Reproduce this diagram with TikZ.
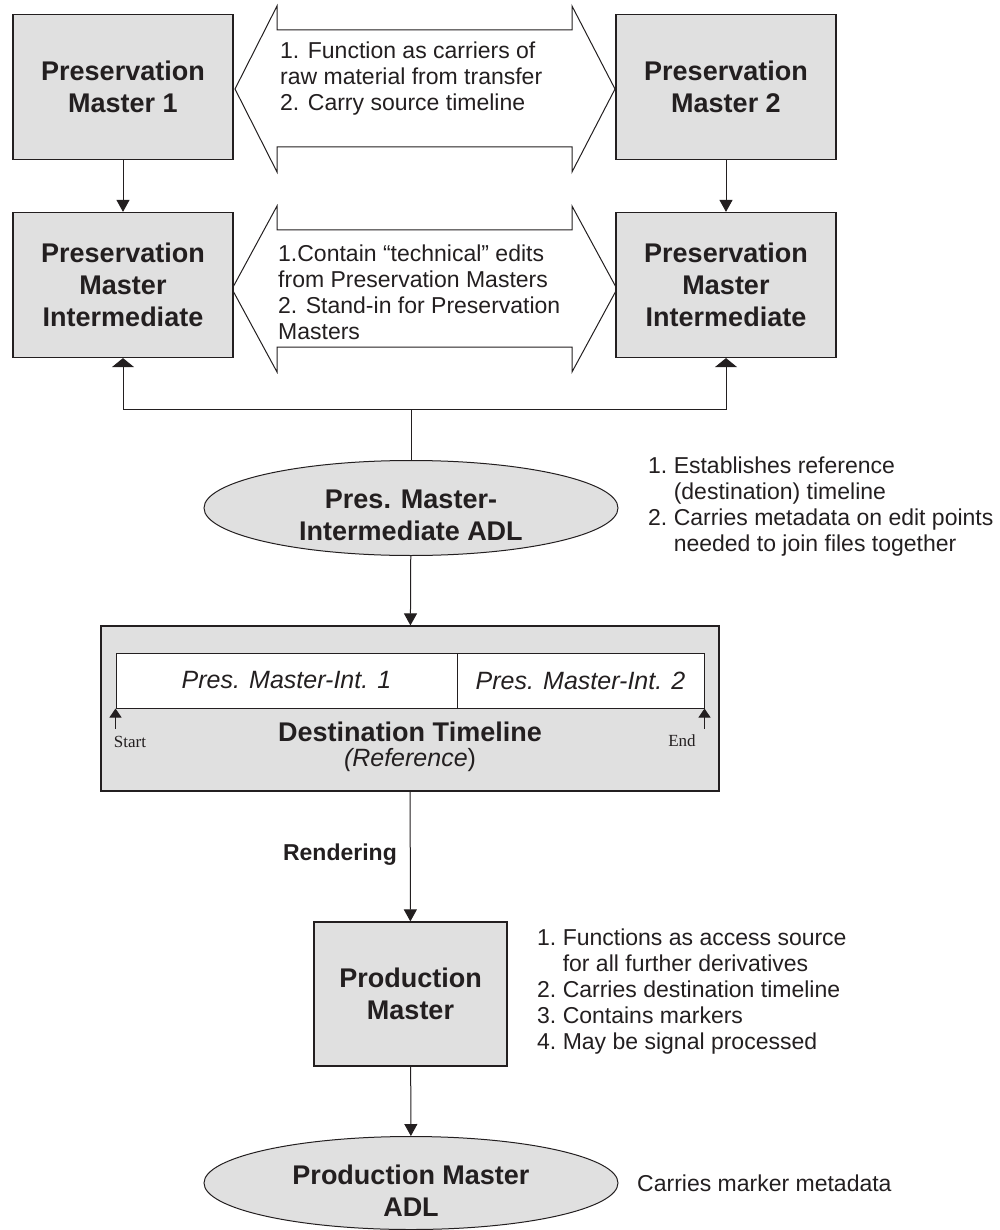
\documentclass[tikz,border=0pt]{standalone}
\usepackage{fontspec}
\setmainfont{Liberation Sans}
\newfontfamily\timesfont{Liberation Serif}
\usetikzlibrary{arrows.meta,shapes.geometric}
\definecolor{boxgray}{HTML}{E0E0E0}
\definecolor{inkgray}{HTML}{231F20}
\tikzset{
  master/.style={draw=inkgray,line width=1.2pt,fill=boxgray,minimum width=220pt,minimum height=145pt,
    align=center,text=inkgray,font=\fontsize{27}{32}\selectfont\bfseries},
  adl/.style={ellipse,draw=inkgray,line width=1pt,fill=boxgray,minimum width=414pt,minimum height=95pt},
  adltext/.style={align=center,text=inkgray,font=\fontsize{27}{32}\selectfont\bfseries},
  cell/.style={draw=inkgray,line width=1pt,fill=white,minimum height=55pt,text=inkgray,
    font=\fontsize{25}{30}\selectfont\itshape},
  note/.style={anchor=west,inner sep=0pt,align=left,text=inkgray,font=\fontsize{23}{26}\selectfont},
  arr/.style={-{Triangle[length=12pt,width=13pt]},line width=1pt,draw=inkgray},
  busarr/.style={-{Triangle[length=9pt,width=22pt]},line width=1pt,draw=inkgray},
  tickarr/.style={-{Triangle[length=9pt,width=12pt]},line width=1pt,draw=inkgray},
}
\begin{document}
\begin{tikzpicture}[x=1pt,y=-1pt]
  \useasboundingbox (0,0) rectangle (999,1230);
  % double arrows between the masters
  \foreach\yc/\lt/\rt in {89/235/615,289/232/617}{%
    \draw[inkgray,line width=1pt,fill=white]
      (\lt,\yc)--(277,\yc-83)--(277,\yc-59)--(572,\yc-59)--(572,\yc-83)--(\rt,\yc)
      --(572,\yc+83)--(572,\yc+58)--(277,\yc+58)--(277,\yc+83)--cycle;}
  \node[note] (t1) at (280,79) {1. Function as carriers of\\raw material from transfer\\2. Carry source timeline};
  \node[note] (t2) at (278,292) {1.Contain “technical” edits\\from Preservation Masters\\2. Stand-in for Preservation\\Masters};
  % boxes
  \node[master] (pm1) at (123,87) {Preservation\\Master 1};
  \node[master] (pm2) at (726,87) {Preservation\\Master 2};
  \node[master] (pmi1) at (123,285) {Preservation\\Master\\Intermediate};
  \node[master] (pmi2) at (726,285) {Preservation\\Master\\Intermediate};
  \draw[arr] (pm1)--(pmi1);
  \draw[arr] (pm2)--(pmi2);
  % ADL and bus
  \node[adl] (adl1) at (411,508) {};
  \node[adltext] (adl1t) at (411,515) {Pres. Master-\\Intermediate ADL};
  \coordinate (bus) at (411,409);
  \draw[busarr] (adl1.north)--(bus)-|(pmi1.south);
  \draw[busarr] (bus)-|(pmi2.south);
  \node[note] (n1) at (648,507) {%
    \begin{tabular}{@{}l@{\ }l@{}}1. & Establishes reference\\ & (destination) timeline\\
    2. & Carries metadata on edit points\\ & needed to join files together\end{tabular}};
  % destination timeline
  \node[draw=inkgray,line width=1.2pt,fill=boxgray,minimum width=618pt,minimum height=165pt] (tl) at (410,708.5) {};
  \node[cell,minimum width=341pt] (c1) at (286.5,680.5) {Pres. Master-Int. 1};
  \node[cell,minimum width=247pt] (c2) at (580.5,680.5) {Pres. Master-Int. 2};
  \node[text=inkgray,font=\fontsize{27}{32}\selectfont\bfseries] (dest) at (410,732) {Destination Timeline};
  \node[text=inkgray,font=\fontsize{25}{30}\selectfont] (ref) at (410,760) {\textit{(Reference})};
  \draw[tickarr] ([yshift=-20pt]c1.south west)--(c1.south west);
  \draw[tickarr] ([yshift=-20pt]c2.south east)--(c2.south east);
  \node[text=inkgray,font=\timesfont\fontsize{17}{20}\selectfont] (st) at (130,742) {Start};
  \node[text=inkgray,font=\timesfont\fontsize{17}{20}\selectfont] (en) at (682,741) {End};
  \draw[arr] (adl1)--(tl);
  % production
  \node[master,minimum width=193pt,minimum height=144pt] (prod) at (410.5,994) {Production\\Master};
  \draw[arr] (tl)--(prod);
  \node[anchor=east,inner sep=0pt,text=inkgray,font=\fontsize{23}{26}\selectfont\bfseries] (rend) at (397,855) {Rendering};
  \node[note] (n2) at (537,992) {%
    \begin{tabular}{@{}l@{\ }l@{}}1. & Functions as access source\\ & for all further derivatives\\
    2. & Carries destination timeline\\ 3. & Contains markers\\ 4. & May be signal processed\end{tabular}};
  \node[adl,minimum height=93pt] (adl2) at (411,1183) {};
  \node[adltext] (adl2t) at (411,1191) {Production Master\\ADL};
  \draw[arr] (prod)--(adl2);
  \node[note] (n3) at (637,1183) {Carries marker metadata};
\end{tikzpicture}
\end{document}
